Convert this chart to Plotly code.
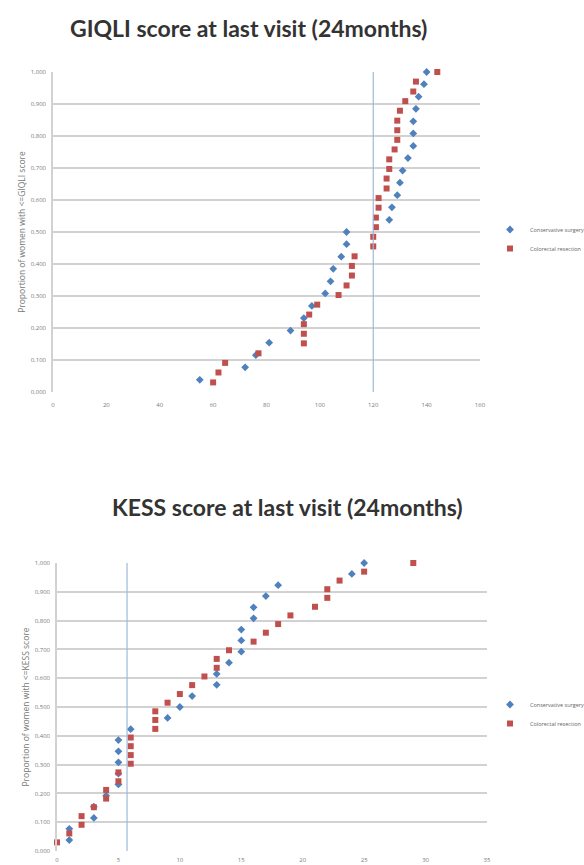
import plotly.graph_objects as go

# ---------------- data ----------------
giqli_title = "GIQLI score at last visit (24months)"
kess_title = "KESS score at last visit (24months)"
series_names = ["Conservative surgery", "Colorectal resection"]

giqli_cons_x = [55, 72, 76, 81, 89, 94, 97, 102, 104, 105, 108, 110, 110,
                126, 127, 129, 130, 131, 133, 135, 135, 135, 136, 137, 139, 140]
giqli_cons_y = [0.038, 0.077, 0.115, 0.154, 0.192, 0.231, 0.269, 0.308, 0.346,
                0.385, 0.423, 0.462, 0.500, 0.538, 0.577, 0.615, 0.654, 0.692,
                0.731, 0.769, 0.808, 0.846, 0.885, 0.923, 0.962, 1.000]
giqli_res_x = [60, 62, 64.5, 77, 94, 94, 94, 96, 99, 107, 110, 112, 112, 113,
               120, 120, 121, 121, 122, 122, 125, 125, 126, 126, 128, 129, 129,
               129, 130, 132, 135, 136, 144]
giqli_res_y = [0.030, 0.061, 0.091, 0.121, 0.152, 0.182, 0.212, 0.242, 0.273,
               0.303, 0.333, 0.364, 0.394, 0.424, 0.455, 0.485, 0.515, 0.545,
               0.576, 0.606, 0.636, 0.667, 0.697, 0.727, 0.758, 0.788, 0.818,
               0.848, 0.879, 0.909, 0.939, 0.970, 1.000]
giqli_ref_line = 120

kess_cons_x = [1, 1, 3, 3, 4, 5, 5, 5, 5, 5, 6, 9, 10, 11, 13, 13, 14, 15, 15,
               15, 16, 16, 17, 18, 24, 25]
kess_cons_y = [0.038, 0.077, 0.115, 0.154, 0.192, 0.231, 0.269, 0.308, 0.346,
               0.385, 0.423, 0.462, 0.500, 0.538, 0.577, 0.615, 0.654, 0.692,
               0.731, 0.769, 0.808, 0.846, 0.885, 0.923, 0.962, 1.000]
kess_res_x = [0, 1, 2, 2, 3, 4, 4, 5, 5, 6, 6, 6, 6, 8, 8, 8, 9, 10, 11, 12, 13,
              13, 14, 16, 17, 18, 19, 21, 22, 22, 23, 25, 29]
kess_res_y = [0.030, 0.061, 0.091, 0.121, 0.152, 0.182, 0.212, 0.242, 0.273,
              0.303, 0.333, 0.364, 0.394, 0.424, 0.455, 0.485, 0.515, 0.545,
              0.576, 0.606, 0.636, 0.667, 0.697, 0.727, 0.758, 0.788, 0.818,
              0.848, 0.879, 0.909, 0.939, 0.970, 1.000]
kess_ref_line = 5.7

y_ticks = [0, 0.1, 0.2, 0.3, 0.4, 0.5, 0.6, 0.7, 0.8, 0.9, 1.0]
giqli_x_ticks = [0, 20, 40, 60, 80, 100, 120, 140, 160]
kess_x_ticks = [0, 5, 10, 15, 20, 25, 30, 35]

# ---------------- style ----------------
W, H = 584, 865
BLUE = "#4F81BD"
RED = "#C0504D"
GRID = "#d2d2d2"
TICKC = "#7a7a7a"
FONT = "Open Sans, Liberation Sans, Arial, sans-serif"
TITLE_FONT = "Lato, Open Sans, sans-serif"

fig = go.Figure()


def px_x(p):
    return p / W


def px_y(p):
    return 1 - p / H


def add_pair(xs, ys, name, sym, size, color, xa, ya, leg):
    fig.add_trace(go.Scatter(x=xs, y=ys, mode="markers", name=name,
                             xaxis=xa, yaxis=ya, legend=leg,
                             marker=dict(symbol=sym, size=size, color=color),
                             cliponaxis=False))


add_pair(giqli_cons_x, giqli_cons_y, series_names[0], "diamond", 6, BLUE, "x", "y", "legend")
add_pair(giqli_res_x, giqli_res_y, series_names[1], "square", 6, RED, "x", "y", "legend")
add_pair(kess_cons_x, kess_cons_y, series_names[0], "diamond", 6, BLUE, "x2", "y2", "legend2")
add_pair(kess_res_x, kess_res_y, series_names[1], "square", 6, RED, "x2", "y2", "legend2")


def xaxis_style(ticklen):
    return dict(showgrid=False, zeroline=False, automargin=False,
                ticks="outside", ticklen=ticklen, tickcolor="rgba(0,0,0,0)",
                tickfont=dict(size=6, color=TICKC, family=FONT))


yaxis_common = dict(range=[0, 1], tickvals=y_ticks, tickformat=".3f",
                    showgrid=True, gridcolor=GRID, gridwidth=1.5,
                    zeroline=False, showline=True, linecolor=GRID, linewidth=1.5,
                    automargin=False,
                    ticks="outside", ticklen=4, tickcolor="rgba(0,0,0,0)",
                    tickfont=dict(size=6, color=TICKC, family=FONT))

leg_common = dict(xanchor="left", yanchor="top",
                  font=dict(size=5.5, color="#666", family=FONT),
                  bgcolor="rgba(0,0,0,0)", itemwidth=30, tracegroupgap=0)

fig.update_layout(
    width=W, height=H,
    margin=dict(l=0, r=0, t=0, b=0, autoexpand=False),
    paper_bgcolor="white", plot_bgcolor="white",
    separators=", ",
    font=dict(family=FONT, color="#333"),
    xaxis=dict(domain=[px_x(53), px_x(480)], range=[0, 160], tickvals=giqli_x_ticks,
               anchor="y", **xaxis_style(7)),
    yaxis=dict(domain=[px_y(392), px_y(72)], anchor="x",
               title=dict(text="Proportion of women with <=GIQLI score",
                          font=dict(size=8.5, color="#777", family=FONT), standoff=4),
               **yaxis_common),
    xaxis2=dict(domain=[px_x(57), px_x(487)], range=[0, 35], tickvals=kess_x_ticks,
                anchor="y2", **xaxis_style(3)),
    yaxis2=dict(domain=[px_y(851), px_y(563)], anchor="x2",
                title=dict(text="Proportion of women with <=KESS score",
                           font=dict(size=8.5, color="#777", family=FONT), standoff=4),
                **yaxis_common),
    legend=dict(x=px_x(490), y=px_y(215), **leg_common),
    legend2=dict(x=px_x(490), y=px_y(690), **leg_common),
    showlegend=True,
)

fig.add_shape(type="line", xref="x", yref="y domain", x0=giqli_ref_line,
              x1=giqli_ref_line, y0=0, y1=1, line=dict(color="#9dbad6", width=1.2))
fig.add_shape(type="line", xref="x2", yref="y2 domain", x0=kess_ref_line,
              x1=kess_ref_line, y0=0, y1=1, line=dict(color="#9dbad6", width=1.2))

fig.add_annotation(text="<b>" + giqli_title + "</b>", xref="paper", yref="paper",
                   x=px_x(248), y=px_y(28), yanchor="middle", showarrow=False,
                   font=dict(size=23, color="#333", family=TITLE_FONT))
fig.add_annotation(text="<b>" + kess_title + "</b>", xref="paper", yref="paper",
                   x=px_x(287), y=px_y(507), yanchor="middle", showarrow=False,
                   font=dict(size=23, color="#333", family=TITLE_FONT))

fig.write_html("out.html",
               config={"displayModeBar": False},
               post_script="document.body.style.margin='0px';"
                           "document.body.style.overflow='hidden';")
